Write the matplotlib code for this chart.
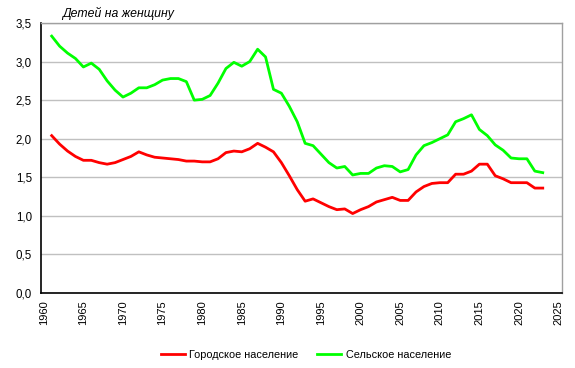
import numpy as np
import matplotlib.pyplot as plt
from matplotlib.ticker import FuncFormatter

# ── Data (children per woman, Russia) ─────────────────────────────────────────
years = list(range(1961, 2024))

urban = [2.04, 1.93, 1.84, 1.77, 1.72, 1.72, 1.69, 1.67, 1.69, 1.73,
         1.77, 1.83, 1.79, 1.76, 1.75, 1.74, 1.73, 1.71, 1.71, 1.70,
         1.70, 1.74, 1.82, 1.84, 1.83, 1.87, 1.94, 1.89, 1.83, 1.69,
         1.52, 1.34, 1.19, 1.22, 1.17, 1.12, 1.08, 1.09, 1.03, 1.08,
         1.12, 1.18, 1.21, 1.24, 1.20, 1.20, 1.31, 1.38, 1.42, 1.43,
         1.43, 1.54, 1.54, 1.58, 1.67, 1.67, 1.52, 1.48, 1.43, 1.43,
         1.43, 1.36, 1.36]

rural = [3.33, 3.20, 3.11, 3.04, 2.93, 2.98, 2.90, 2.75, 2.63, 2.54,
         2.59, 2.66, 2.66, 2.70, 2.76, 2.78, 2.78, 2.74, 2.50, 2.51,
         2.56, 2.72, 2.91, 2.99, 2.94, 3.00, 3.16, 3.06, 2.64, 2.59,
         2.42, 2.22, 1.94, 1.91, 1.80, 1.69, 1.62, 1.64, 1.53, 1.55,
         1.55, 1.62, 1.65, 1.64, 1.57, 1.60, 1.79, 1.91, 1.95, 2.00,
         2.05, 2.22, 2.26, 2.31, 2.12, 2.04, 1.92, 1.85, 1.75, 1.74,
         1.74, 1.58, 1.56]

labels = ["Городское население", "Сельское население"]
x_ticks = list(range(1960, 2026, 5))
y_ticks = np.arange(0, 3.51, 0.5)

# ── Plot ──────────────────────────────────────────────────────────────────────
plt.rcParams["font.family"] = ["Liberation Sans", "DejaVu Sans"]

fig = plt.figure(figsize=(5.75, 3.68), dpi=100)
ax = fig.add_axes([41 / 575, 1 - 293 / 368, 521 / 575, 270 / 368])

ax.plot(years, urban, color="#ff0000", lw=2.0, label=labels[0], solid_joinstyle="round")
ax.plot(years, rural, color="#00ff00", lw=2.0, label=labels[1], solid_joinstyle="round")

ax.set_xlim(1959.65, 2025.43)
ax.set_ylim(0, 3.5)
ax.set_xticks(x_ticks)
ax.set_yticks(y_ticks)
ax.yaxis.set_major_formatter(FuncFormatter(lambda v, p: f"{v:.1f}".replace(".", ",")))
ax.tick_params(axis="x", labelrotation=90, length=0, labelsize=8, pad=5)
ax.tick_params(axis="y", length=0, labelsize=8.3, pad=6.5)

ax.grid(axis="y", color="#c0c0c0", lw=1.0)
ax.set_axisbelow(True)
for side in ["top", "right"]:
    ax.spines[side].set_color("#a0a0a0")
    ax.spines[side].set_linewidth(1.0)
for side in ["left", "bottom"]:
    ax.spines[side].set_color("black")
    ax.spines[side].set_linewidth(1.2)

fig.text(62 / 575, 1 - 13 / 368, "Детей на женщину", style="italic",
         fontsize=8.8, ha="left", va="center")

fig.legend(loc="center", bbox_to_anchor=(306 / 575, 1 - 355 / 368), ncol=2,
           frameon=False, fontsize=7.8, handlelength=2.2, handletextpad=0.45,
           columnspacing=1.7)

fig.savefig("out.png", dpi=100)
